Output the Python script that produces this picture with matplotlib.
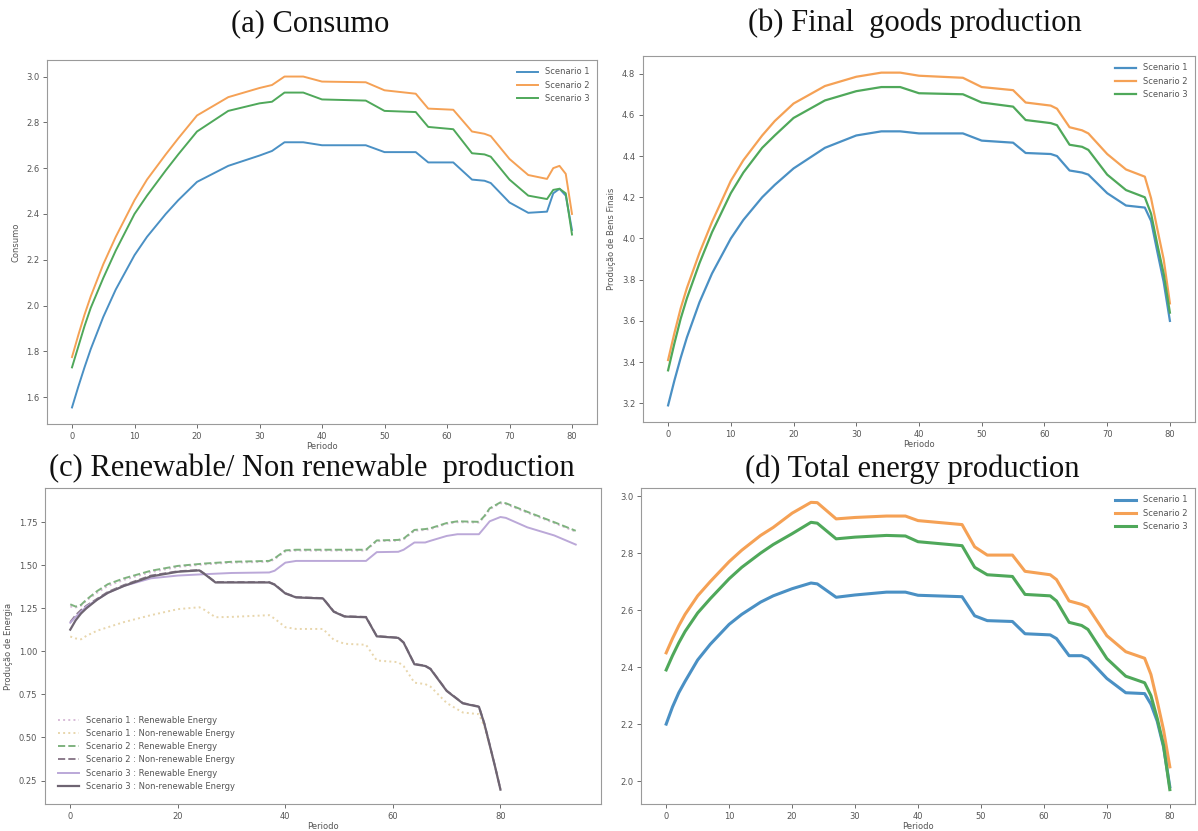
import matplotlib
matplotlib.use("Agg")
import matplotlib.pyplot as plt

# ---- dados ----
PERIODS_A = [0, 1, 2, 3, 5, 7, 10, 12, 15, 17, 20, 25, 30, 32, 34, 37, 40, 47, 50, 55,
             57, 61, 64, 66, 67, 70, 73, 76, 77, 78, 79, 80]
CONSUMO_S1 = [1.555, 1.645, 1.73, 1.81, 1.95, 2.07, 2.22, 2.30, 2.40, 2.46, 2.54, 2.61, 2.655,
              2.675, 2.713, 2.713, 2.70, 2.70, 2.67, 2.67, 2.625, 2.625, 2.55, 2.545, 2.535,
              2.45, 2.405, 2.41, 2.49, 2.51, 2.48, 2.33]
CONSUMO_S2 = [1.775, 1.87, 1.96, 2.04, 2.18, 2.30, 2.46, 2.55, 2.66, 2.73, 2.83, 2.91, 2.95,
              2.963, 3.0, 3.0, 2.978, 2.975, 2.94, 2.925, 2.86, 2.855, 2.76, 2.75, 2.74,
              2.64, 2.57, 2.553, 2.60, 2.61, 2.575, 2.40]
CONSUMO_S3 = [1.73, 1.82, 1.91, 1.99, 2.12, 2.24, 2.40, 2.48, 2.59, 2.66, 2.76, 2.85, 2.883,
              2.89, 2.93, 2.93, 2.90, 2.895, 2.85, 2.845, 2.78, 2.77, 2.665, 2.66, 2.65,
              2.55, 2.48, 2.465, 2.505, 2.51, 2.49, 2.31]

PERIODS_B = [0, 1, 2, 3, 5, 7, 10, 12, 15, 17, 20, 25, 30, 34, 37, 40, 47, 50, 55, 57,
             61, 62, 64, 66, 67, 70, 73, 76, 77, 78, 79, 80]
BENS_S1 = [3.19, 3.31, 3.42, 3.52, 3.69, 3.83, 4.00, 4.09, 4.20, 4.26, 4.34, 4.44, 4.50,
           4.52, 4.52, 4.51, 4.51, 4.475, 4.465, 4.415, 4.41, 4.40, 4.33, 4.32, 4.31,
           4.22, 4.16, 4.15, 4.085, 3.935, 3.79, 3.60]
BENS_S2 = [3.41, 3.54, 3.66, 3.76, 3.93, 4.08, 4.28, 4.38, 4.50, 4.57, 4.655, 4.74, 4.785,
           4.805, 4.805, 4.79, 4.78, 4.735, 4.72, 4.66, 4.645, 4.63, 4.54, 4.525, 4.51,
           4.41, 4.335, 4.30, 4.195, 4.045, 3.90, 3.685]
BENS_S3 = [3.36, 3.49, 3.61, 3.71, 3.88, 4.03, 4.22, 4.32, 4.44, 4.50, 4.585, 4.67, 4.715,
           4.735, 4.735, 4.705, 4.70, 4.66, 4.64, 4.575, 4.56, 4.55, 4.455, 4.445, 4.43,
           4.31, 4.235, 4.20, 4.12, 3.97, 3.83, 3.64]

PERIODS_REN = [0, 1, 2, 3, 5, 7, 10, 15, 20, 25, 30, 37, 38, 40, 42, 55, 57, 61, 62, 64,
               66, 67, 70, 72, 76, 77, 78, 80, 81, 85, 90, 94]
REN_S1 = [1.26, 1.255, 1.265, 1.295, 1.34, 1.38, 1.415, 1.46, 1.49, 1.505, 1.515, 1.52,
          1.535, 1.58, 1.585, 1.585, 1.64, 1.642, 1.65, 1.70, 1.705, 1.71, 1.74, 1.75,
          1.748, 1.78, 1.825, 1.86, 1.855, 1.805, 1.745, 1.695]
REN_S2 = [1.273, 1.26, 1.27, 1.30, 1.35, 1.39, 1.424, 1.468, 1.496, 1.51, 1.52, 1.525,
          1.54, 1.586, 1.59, 1.59, 1.644, 1.647, 1.655, 1.705, 1.71, 1.715, 1.745, 1.755,
          1.752, 1.785, 1.83, 1.865, 1.86, 1.81, 1.75, 1.70]
REN_S3 = [1.166, 1.20, 1.23, 1.26, 1.30, 1.34, 1.38, 1.424, 1.44, 1.448, 1.455, 1.458,
          1.468, 1.515, 1.525, 1.525, 1.576, 1.578, 1.59, 1.632, 1.632, 1.642, 1.67, 1.68,
          1.68, 1.717, 1.755, 1.78, 1.775, 1.72, 1.673, 1.62]

PERIODS_NREN = [0, 1, 2, 3, 5, 7, 10, 15, 20, 24, 25, 27, 30, 37, 38, 40, 42, 47, 49, 51,
                55, 57, 61, 62, 64, 66, 67, 70, 73, 76, 77, 78, 79, 80]
NREN_S1 = [1.086, 1.075, 1.07, 1.09, 1.12, 1.14, 1.17, 1.21, 1.245, 1.256, 1.24, 1.198,
           1.20, 1.21, 1.19, 1.14, 1.13, 1.13, 1.067, 1.044, 1.038, 0.947, 0.937, 0.914,
           0.818, 0.81, 0.795, 0.70, 0.645, 0.635, 0.565, 0.45, 0.33, 0.20]
NREN_S2 = [1.17, 1.21, 1.24, 1.265, 1.305, 1.345, 1.385, 1.44, 1.465, 1.472, 1.45, 1.402,
           1.402, 1.402, 1.389, 1.338, 1.315, 1.309, 1.232, 1.204, 1.20, 1.089, 1.08, 1.052,
           0.927, 0.917, 0.899, 0.772, 0.70, 0.68, 0.582, 0.458, 0.332, 0.20]
NREN_S3 = [1.126, 1.18, 1.22, 1.25, 1.30, 1.34, 1.38, 1.435, 1.462, 1.47, 1.448, 1.40,
           1.40, 1.40, 1.387, 1.336, 1.313, 1.307, 1.23, 1.202, 1.198, 1.087, 1.078, 1.05,
           0.925, 0.915, 0.897, 0.77, 0.698, 0.678, 0.58, 0.456, 0.33, 0.197]

PERIODS_D = [0, 1, 2, 3, 5, 7, 10, 12, 15, 17, 20, 23, 24, 27, 30, 35, 38, 40, 47, 49,
             51, 55, 57, 61, 62, 64, 66, 67, 70, 73, 76, 77, 78, 79, 80]
ENERGIA_S1 = [2.20, 2.26, 2.31, 2.35, 2.425, 2.48, 2.55, 2.585, 2.628, 2.65, 2.675, 2.695,
              2.692, 2.645, 2.653, 2.663, 2.663, 2.652, 2.647, 2.58, 2.563, 2.56, 2.517,
              2.513, 2.50, 2.44, 2.44, 2.43, 2.36, 2.31, 2.307, 2.27, 2.21, 2.12, 1.98]
ENERGIA_S2 = [2.45, 2.50, 2.545, 2.585, 2.65, 2.70, 2.77, 2.81, 2.862, 2.89, 2.94, 2.978,
              2.977, 2.92, 2.925, 2.93, 2.93, 2.914, 2.90, 2.822, 2.793, 2.793, 2.736,
              2.724, 2.707, 2.632, 2.62, 2.61, 2.51, 2.454, 2.431, 2.374, 2.28, 2.18, 2.05]
ENERGIA_S3 = [2.39, 2.44, 2.485, 2.525, 2.59, 2.64, 2.71, 2.75, 2.80, 2.83, 2.868, 2.908,
              2.905, 2.85, 2.856, 2.862, 2.86, 2.84, 2.826, 2.75, 2.724, 2.718, 2.655,
              2.65, 2.632, 2.557, 2.546, 2.532, 2.43, 2.368, 2.345, 2.30, 2.22, 2.126, 1.97]

SCENARIOS = ["Scenario 1", "Scenario 2", "Scenario 3"]
COLORS = ["#4a90c4", "#f5a155", "#4fa85a"]

W, H = 1198, 831
TITLE_FONT = "Liberation Serif"
TXT = "#555555"


def add_axes(fig, left, top, right, bottom):
    # posicoes em pixels -> fracoes da figura
    ax = fig.add_axes([left / W, 1 - bottom / H, (right - left) / W, (bottom - top) / H])
    for sp in ax.spines.values():
        sp.set_color("#9a9a9a")
    ax.tick_params(labelsize=6, colors=TXT, length=3, width=0.6, pad=2.5)
    return ax


def scenario_panel(ax, x, series, ylabel, lw):
    for y, name, c in zip(series, SCENARIOS, COLORS):
        ax.plot(x, y, color=c, lw=lw, label=name)
    ax.set_xlabel("Periodo", fontsize=6, color=TXT, labelpad=1)
    if ylabel:
        ax.set_ylabel(ylabel, fontsize=6, color=TXT)
    ax.legend(loc="upper right", fontsize=6, frameon=False, labelcolor=TXT,
              handlelength=2.5)


def main():
    fig = plt.figure(figsize=(W / 100, H / 100), dpi=100)

    ax_a = add_axes(fig, 47, 60, 597, 424)
    scenario_panel(ax_a, PERIODS_A, [CONSUMO_S1, CONSUMO_S2, CONSUMO_S3], "Consumo", 1.4)

    ax_b = add_axes(fig, 643, 56, 1195, 422)
    scenario_panel(ax_b, PERIODS_B, [BENS_S1, BENS_S2, BENS_S3],
                   "Produção de Bens Finais", 1.6)

    ax_c = add_axes(fig, 45, 488, 601, 804)
    ax_c.plot(PERIODS_REN, REN_S1, color="#d8bcd8", ls=":", lw=1.4,
              label="Scenario 1 : Renewable Energy")
    ax_c.plot(PERIODS_NREN, NREN_S1, color="#e8d6ac", ls=":", lw=1.4,
              label="Scenario 1 : Non-renewable Energy")
    ax_c.plot(PERIODS_REN, REN_S2, color="#7fb27f", ls="--", lw=1.4,
              label="Scenario 2 : Renewable Energy")
    ax_c.plot(PERIODS_NREN, NREN_S2, color="#8c7c8c", ls="--", lw=1.4,
              label="Scenario 2 : Non-renewable Energy")
    ax_c.plot(PERIODS_REN, REN_S3, color="#bba8d8", ls="-", lw=1.4,
              label="Scenario 3 : Renewable Energy")
    ax_c.plot(PERIODS_NREN, NREN_S3, color="#6e6472", ls="-", lw=1.6,
              label="Scenario 3 : Non-renewable Energy")
    ax_c.set_xlabel("Periodo", fontsize=6, color=TXT, labelpad=1)
    ax_c.set_ylabel("Produção de Energia", fontsize=6, color=TXT)
    ax_c.legend(loc="lower left", fontsize=6, frameon=False, labelcolor=TXT,
                handlelength=2.5, borderaxespad=1.2)

    ax_d = add_axes(fig, 641, 488, 1195, 804)
    scenario_panel(ax_d, PERIODS_D, [ENERGIA_S1, ENERGIA_S2, ENERGIA_S3], None, 2.2)

    titles = [
        ("(a) Consumo", 310, 24),
        ("(b) Final  goods production", 915, 23),
        ("(c) Renewable/ Non renewable  production", 312, 468),
        ("(d) Total energy production", 912, 469),
    ]
    for text, xp, yp in titles:
        fig.text(xp / W, 1 - yp / H, text, ha="center", va="center",
                 fontsize=22, family=TITLE_FONT, color="#111111")

    fig.savefig("out.png", dpi=100)
    plt.close(fig)


if __name__ == "__main__":
    main()
